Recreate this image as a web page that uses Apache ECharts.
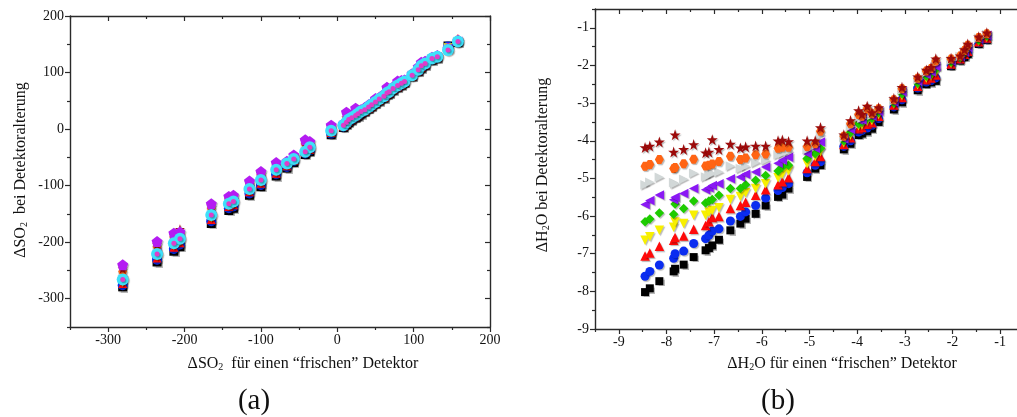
<!DOCTYPE html>
<html>
<head>
<meta charset="utf-8">
<script src="https://cdn.jsdelivr.net/npm/echarts@6/dist/echarts.min.js"></script>
<style>
  html, body { margin: 0; padding: 0; background: #fff; }
  #chart { width: 1017px; height: 417px; }
</style>
</head>
<body>
<div id="chart"></div>
<script>
// ---------- panel (a): ΔSO2 ----------
const so2Fresh = [-281,-236,-214,-206,-165,-142,-136,-115,-100,-80,-66,-57,-42,-36,-8,
  8,12,15,19,24,27,31,36,41,45,50,55,61,65,68,73,79,84,88,98,106,110,115,124,131,145,158];
const so2Black  = [-279,-235,-216,-208,-167,-144,-140,-117,-102,-83,-69,-59,-45,-40,-10,
  3,8,12,16,20,23,27,31,36,40,45,50,55,61,63,69,74,78,82,93,102,108,113,122,126,147,153];
const so2Blue   = [-276,-231,-212,-204,-163,-140,-137,-114,-99,-80,-67,-57,-43,-38,-8,
  4,9,13,17,21,24,28,32,37,41,46,51,56,62,64,70,75,79,83,94,103,109,114,123,127,146,154];
const so2Red    = [-273,-228,-209,-201,-160,-137,-134,-111,-96,-78,-65,-55,-41,-36,-6,
  5,10,14,18,22,25,29,32,37,41,46,51,56,62,64,70,75,79,83,94,103,109,114,123,127,145,160];
const so2Yellow = [-271,-225,-206,-199,-157,-135,-132,-109,-94,-76,-63,-54,-40,-34,-5,
  5,10,14,18,22,25,29,33,38,42,47,52,57,62,65,71,76,80,83,94,104,110,115,124,128,144,155];
const so2Green  = [-268,-222,-203,-196,-154,-133,-130,-107,-92,-74,-62,-53,-39,-33,-4,
  6,11,15,19,22,26,30,33,38,42,47,52,57,63,65,71,76,80,84,95,104,110,115,124,128,143,155];
const so2Violet = [-265,-218,-200,-193,-151,-130,-127,-104,-89,-71,-60,-51,-37,-32,-3,
  6,11,15,19,23,26,30,34,38,43,48,53,57,63,65,71,76,80,84,95,104,111,115,124,128,143,156];
const so2Gray   = [-258,-213,-195,-189,-145,-126,-124,-100,-84,-67,-60,-49,-30,-29,0,
  8,14,17,21,26,28,32,35,40,44,50,54,59,66,67,73,79,83,85,96,106,114,117,125,129,142,156];
const so2Orange = [-252,-208,-191,-184,-140,-123,-121,-97,-81,-64,-58,-48,-26,-27,3,
  8,16,18,22,28,28,32,36,41,44,51,55,60,68,67,73,80,84,86,97,107,115,118,126,129,142,157];
const so2Star   = [-247,-204,-188,-177,-136,-121,-119,-95,-78,-61,-57,-47,-22,-24,5,
  9,20,19,23,32,29,33,37,42,45,52,55,61,70,68,74,82,85,86,97,108,116,119,126,130,143,158];
const so2Pent   = [-240,-199,-184,-182,-132,-119,-117,-92,-75,-59,-57,-46,-19,-22,7,
  10,30,20,24,37,30,34,38,43,46,54,56,62,74,69,75,85,86,87,98,110,118,120,127,130,143,157];
const so2Cyan   = [-266,-221,-202,-194,-152,-132,-128,-106,-90,-72,-61,-53,-40,-32,-3,
  7,12,17,20,24,27,31,34,39,43,48,53,58,64,66,72,77,81,84,95,105,112,116,125,128,140,155];

const so2Major = [-300,-200,-100,0,100,200];
const so2Minor = [-350,-250,-150,-50,50,150];

// ---------- panel (b): ΔH2O ----------
const h2oFresh = [-8.45,-8.35,-8.15,-7.85,-7.82,-7.64,-7.43,-7.18,-7.11,-7.04,-6.90,-6.66,-6.45,-6.34,-6.13,
  -5.92,-5.66,-5.57,-5.44,-5.05,-4.88,-4.77,-4.28,-4.14,-3.97,-3.90,-3.79,-3.69,-3.55,-3.23,-3.06,
  -2.73,-2.55,-2.45,-2.35,-2.03,-1.84,-1.75,-1.68,-1.45,-1.28];
const h2oBlack  = [-8.02,-7.92,-7.73,-7.47,-7.40,-7.29,-7.09,-6.91,-6.85,-6.78,-6.63,-6.38,-6.20,-6.07,-5.94,
  -5.72,-5.49,-5.43,-5.27,-4.96,-4.74,-4.65,-4.23,-4.08,-3.85,-3.81,-3.75,-3.68,-3.50,-3.17,-2.98,
  -2.66,-2.50,-2.45,-2.41,-2.02,-1.87,-1.78,-1.70,-1.43,-1.32];
const h2oBlue   = [-7.60,-7.47,-7.30,-7.12,-7.00,-6.93,-6.73,-6.60,-6.51,-6.40,-6.34,-6.13,-6.01,-5.89,-5.72,
  -5.52,-5.32,-5.24,-5.14,-4.85,-4.65,-4.56,-4.15,-4.00,-3.77,-3.73,-3.66,-3.59,-3.41,-3.10,-2.91,
  -2.60,-2.44,-2.40,-2.33,-1.99,-1.84,-1.74,-1.66,-1.40,-1.30];
const h2oRed    = [-7.06,-6.98,-6.80,-6.64,-6.57,-6.53,-6.35,-6.25,-6.15,-6.04,-6.01,-5.80,-5.72,-5.63,-5.45,
  -5.30,-5.17,-5.09,-4.98,-4.74,-4.55,-4.42,-4.10,-3.92,-3.68,-3.65,-3.56,-3.52,-3.35,-3.05,-2.85,
  -2.55,-2.38,-2.33,-2.25,-1.96,-1.82,-1.70,-1.62,-1.37,-1.27];
const h2oYellow = [-6.64,-6.55,-6.38,-6.30,-6.16,-6.20,-5.98,-5.98,-5.90,-5.85,-5.78,-5.56,-5.48,-5.38,-5.27,
  -5.14,-4.98,-4.89,-4.80,-4.61,-4.42,-4.29,-4.05,-3.85,-3.60,-3.58,-3.48,-3.46,-3.30,-3.02,-2.80,
  -2.51,-2.33,-2.28,-2.18,-1.94,-1.80,-1.68,-1.58,-1.35,-1.25];
const h2oGreen  = [-6.15,-6.08,-5.92,-5.95,-5.68,-5.80,-5.60,-5.65,-5.60,-5.56,-5.45,-5.27,-5.27,-5.17,-5.05,
  -4.92,-4.80,-4.70,-4.65,-4.47,-4.34,-4.20,-4.00,-3.78,-3.55,-3.50,-3.40,-3.40,-3.25,-3.00,-2.75,
  -2.47,-2.28,-2.22,-2.10,-1.91,-1.79,-1.66,-1.55,-1.33,-1.22];
const h2oViolet = [-5.69,-5.59,-5.44,-5.57,-5.50,-5.40,-5.27,-5.30,-5.25,-5.19,-5.14,-5.01,-4.96,-4.89,-4.83,
  -4.70,-4.60,-4.52,-4.44,-4.34,-4.20,-4.03,-3.95,-3.70,-3.45,-3.45,-3.30,-3.35,-3.22,-2.97,-2.70,
  -2.42,-2.24,-2.17,-2.03,-1.88,-1.77,-1.64,-1.52,-1.30,-1.20];
const h2oGray   = [-5.17,-5.10,-4.97,-5.11,-5.14,-5.02,-4.86,-4.96,-4.92,-4.87,-4.83,-4.67,-4.74,-4.68,-4.58,
  -4.52,-4.37,-4.34,-4.27,-4.24,-4.12,-3.84,-3.92,-3.62,-3.38,-3.40,-3.22,-3.32,-3.18,-2.94,-2.66,
  -2.38,-2.19,-2.12,-1.95,-1.86,-1.76,-1.62,-1.49,-1.28,-1.18];
const h2oOrange = [-4.68,-4.63,-4.50,-4.74,-4.71,-4.61,-4.49,-4.67,-4.65,-4.62,-4.55,-4.41,-4.50,-4.46,-4.37,
  -4.35,-4.20,-4.17,-4.17,-4.15,-4.08,-3.75,-3.88,-3.55,-3.30,-3.35,-3.15,-3.28,-3.15,-2.91,-2.62,
  -2.34,-2.15,-2.08,-1.88,-1.83,-1.75,-1.60,-1.46,-1.26,-1.16];
const h2oStar   = [-4.18,-4.14,-4.03,-4.30,-3.84,-4.23,-4.10,-4.32,-4.30,-3.97,-4.23,-4.09,-4.19,-4.16,-4.14,
  -4.14,-4.00,-3.98,-4.02,-4.00,-4.00,-3.65,-3.84,-3.46,-3.20,-3.30,-3.08,-3.25,-3.12,-2.88,-2.58,
  -2.30,-2.12,-2.05,-1.82,-1.81,-1.74,-1.58,-1.43,-1.24,-1.13];

const h2oMajor  = [-9,-8,-7,-6,-5,-4,-3,-2,-1];
const h2oMinorX = [-9.5,-8.5,-7.5,-6.5,-5.5,-4.5,-3.5,-2.5,-1.5,-0.5];
const h2oMinorY = [-8.5,-7.5,-6.5,-5.5,-4.5,-3.5,-2.5,-1.5,-0.5];

// ---------- styling ----------
const FONT = '"Liberation Serif", "Times New Roman", serif';
const AXIS_COLOR = '#2a2a2a';
const SYM = {
  star: 'path://M50,0 L61.2,34.5 L97.6,34.5 L68.2,55.9 L79.4,90.5 L50,69.1 L20.6,90.5 L31.8,55.9 L2.4,34.5 L38.8,34.5 Z',
  pent: 'path://M50,0 L97.6,34.5 L79.4,90.5 L20.6,90.5 L2.4,34.5 Z',
  hex:  'path://M28,0 L72,0 L100,50 L72,100 L28,100 L0,50 Z'
};

function axis(grid, pos, min, max, ticks, major, labels) {
  const inward = (pos === 'top' || pos === 'right');
  return {
    type: 'value', gridIndex: grid, position: pos, min: min, max: max,
    axisLine: { show: major, onZero: false, lineStyle: { color: AXIS_COLOR, width: 1.4 } },
    axisTick: { show: true, inside: inward, length: major ? 5 : 3, customValues: ticks,
                lineStyle: { color: AXIS_COLOR, width: 1.2 } },
    axisLabel: labels ? { show: true, customValues: ticks, fontFamily: FONT, fontSize: 14,
                          color: '#111', margin: 6 } : { show: false },
    splitLine: { show: false },
    minorTick: { show: false }
  };
}

const xAxes = [
  axis(0, 'bottom', -350, 200, so2Major, true, true),
  axis(0, 'bottom', -350, 200, so2Minor, false, false),
  axis(0, 'top',    -350, 200, so2Major, true, false),
  axis(0, 'top',    -350, 200, so2Minor, false, false),
  axis(1, 'bottom', -9.5, -0.5, h2oMajor, true, true),
  axis(1, 'bottom', -9.5, -0.5, h2oMinorX, false, false),
  axis(1, 'top',    -9.5, -0.5, h2oMajor, true, false),
  axis(1, 'top',    -9.5, -0.5, h2oMinorX, false, false)
];
const yAxes = [
  axis(0, 'left',  -350, 200, so2Major, true, true),
  axis(0, 'left',  -350, 200, so2Minor, false, false),
  axis(0, 'right', -350, 200, so2Major, true, false),
  axis(0, 'right', -350, 200, so2Minor, false, false),
  axis(1, 'left',  -9, -0.5, h2oMajor, true, true),
  axis(1, 'left',  -9, -0.5, h2oMinorY, false, false),
  axis(1, 'right', -9, -0.5, h2oMajor, true, false),
  axis(1, 'right', -9, -0.5, h2oMinorY, false, false)
];

function scatter(xs, ys, symbol, color, size, rotate, axisIdx) {
  return {
    type: 'scatter', xAxisIndex: axisIdx, yAxisIndex: axisIdx,
    symbol: symbol, symbolSize: size, symbolRotate: rotate || 0,
    itemStyle: { color: color, opacity: 1, shadowColor: 'rgba(0,0,0,0.28)',
                 shadowBlur: 1, shadowOffsetX: 1.2, shadowOffsetY: 1.2 },
    data: xs.map((x, i) => [x, ys[i]]),
    silent: true, animation: false
  };
}

const C = {
  black: '#000000', blue: '#0a2cf0', red: '#ff0a0a', yellow: '#f8f000', green: '#1ecc00',
  violet: '#8a18f4', gray: '#d2d8d8', orange: '#ff6414', star: '#9c0a0a',
  pent: '#b41cf2', cyan: '#3ee0fa', dot: '#e03cc8'
};

const seriesA = [
  scatter(so2Fresh, so2Black,  'rect',     C.black,  9, 0, 0),
  scatter(so2Fresh, so2Blue,   'circle',   C.blue,  10, 0, 0),
  scatter(so2Fresh, so2Red,    'triangle', C.red,    9, 0, 0),
  scatter(so2Fresh, so2Yellow, 'triangle', C.yellow, 9, 180, 0),
  scatter(so2Fresh, so2Green,  'diamond',  C.green,  9, 0, 0),
  scatter(so2Fresh, so2Violet, 'triangle', C.violet, 9, 90, 0),
  scatter(so2Fresh, so2Gray,   'triangle', C.gray,   9, -90, 0),
  scatter(so2Fresh, so2Orange, SYM.hex,    C.orange, 9, 0, 0),
  scatter(so2Fresh, so2Star,   SYM.star,   C.star,  10, 0, 0),
  scatter(so2Fresh, so2Pent,   SYM.pent,   C.pent,  11, 0, 0),
  scatter(so2Fresh, so2Cyan,   'circle',   C.cyan,  12, 0, 0),
  scatter(so2Fresh, so2Cyan,   'circle',   C.dot,    5, 0, 0)
];
const seriesB = [
  scatter(h2oFresh, h2oBlack,  'rect',     C.black,  8, 0, 4),
  scatter(h2oFresh, h2oBlue,   'circle',   C.blue,   9, 0, 4),
  scatter(h2oFresh, h2oRed,    'triangle', C.red,    9.5, 0, 4),
  scatter(h2oFresh, h2oYellow, 'triangle', C.yellow, 9.5, 180, 4),
  scatter(h2oFresh, h2oGreen,  'diamond',  C.green,  9.5, 0, 4),
  scatter(h2oFresh, h2oViolet, 'triangle', C.violet, 9.5, 90, 4),
  scatter(h2oFresh, h2oGray,   'triangle', C.gray,   9.5, -90, 4),
  scatter(h2oFresh, h2oOrange, SYM.hex,    C.orange, 9, 0, 4),
  scatter(h2oFresh, h2oStar,   SYM.star,   C.star,   11, 0, 4)
];

function sub(main, after, size) {
  return {
    text: '{n|' + main + '}{s|2}{n|' + after + '}',
    rich: {
      n: { fontFamily: FONT, fontSize: size, fill: '#111' },
      s: { fontFamily: FONT, fontSize: Math.round(size * 0.6), fill: '#111', verticalAlign: 'bottom' }
    }
  };
}

function title(x, y, rot, parts) {
  return {
    type: 'text', x: x, y: y, rotation: rot,
    style: Object.assign({ textAlign: 'center', textVerticalAlign: 'middle' }, parts),
    silent: true
  };
}

const chart = echarts.init(document.getElementById('chart'), null, { renderer: 'canvas' });
chart.setOption({
  backgroundColor: '#ffffff',
  animation: false,
  grid: [
    { left: 70, top: 16, width: 420, height: 311, outerBoundsMode: 'none' },
    { left: 595, top: 9, width: 429, height: 320, outerBoundsMode: 'none' }
  ],
  xAxis: xAxes,
  yAxis: yAxes,
  series: seriesA.concat(seriesB),
  graphic: [
    title(303, 364, 0, sub('ΔSO', '  für einen “frischen” Detektor', 16)),
    title(21, 170, Math.PI / 2, sub('ΔSO', '  bei Detektoralterung', 16)),
    title(842, 364, 0, sub('ΔH', 'O für einen “frischen” Detektor', 16)),
    title(543, 165, Math.PI / 2, sub('ΔH', 'O bei Detektoralterung', 16)),
    { type: 'text', x: 254, y: 401, silent: true,
      style: { text: '(a)', font: '29px ' + FONT, fill: '#111', textAlign: 'center', textVerticalAlign: 'middle' } },
    { type: 'text', x: 778, y: 401, silent: true,
      style: { text: '(b)', font: '29px ' + FONT, fill: '#111', textAlign: 'center', textVerticalAlign: 'middle' } }
  ]
});
</script>
</body>
</html>
